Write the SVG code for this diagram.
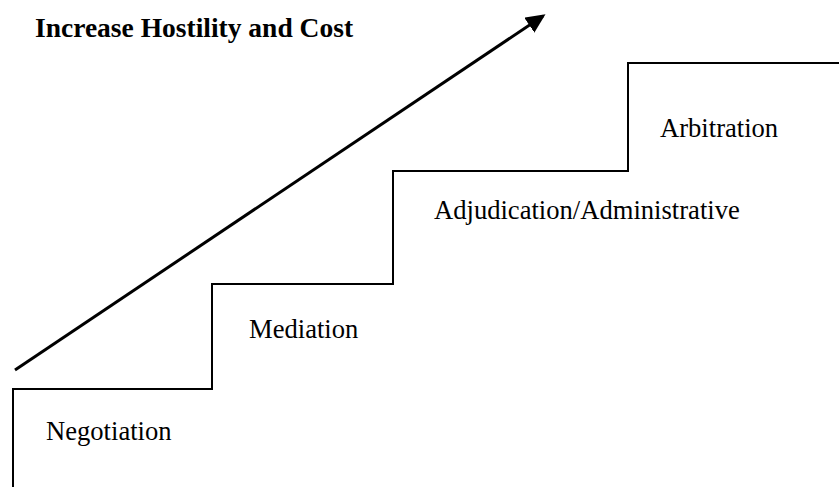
<svg xmlns="http://www.w3.org/2000/svg" width="839" height="487" viewBox="0 0 839 487">
<style>
.lbl{font-family:"Liberation Serif","Times New Roman",serif;font-size:26.6px;fill:#000}
.title{font-family:"Liberation Serif","Times New Roman",serif;font-size:27.5px;font-weight:bold;fill:#000}
.step{fill:none;stroke:#000;stroke-width:2}
.arrow{stroke:#000;stroke-width:3;fill:none}
</style>
<defs>
<marker id="ah" markerWidth="7" markerHeight="6" refX="5.5" refY="3" orient="auto" markerUnits="strokeWidth">
<path d="M0,0 L6.5,3 L0,6 z" fill="#000"/>
</marker>
</defs>
<rect width="839" height="487" fill="#fff"/>
<g id="title"><text class="title" x="35" y="37">Increase Hostility and Cost</text></g>
<g id="connectors">
<line class="arrow" x1="15" y1="370" x2="543" y2="16" marker-end="url(#ah)"/>
</g>
<g id="staircase">
<path class="step" d="M13,487 V389 H212 V284 H393 V171 H628 V63 H839"/>
</g>
<g id="negotiation"><text class="lbl" x="46" y="440">Negotiation</text></g>
<g id="mediation"><text class="lbl" x="249" y="338">Mediation</text></g>
<g id="adjudication"><text class="lbl" x="434" y="219">Adjudication/Administrative</text></g>
<g id="arbitration"><text class="lbl" x="660" y="137">Arbitration</text></g>
</svg>
